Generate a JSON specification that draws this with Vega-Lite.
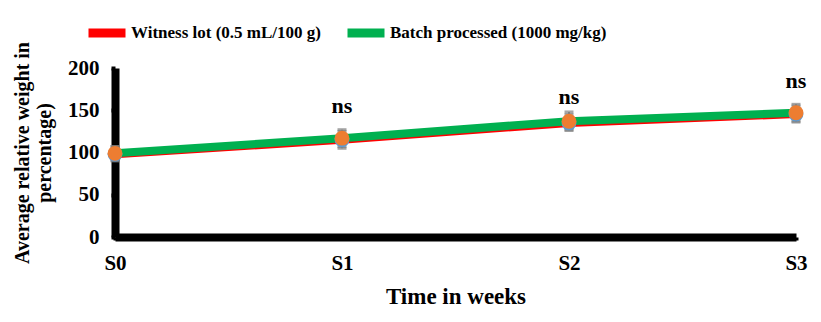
{
  "$schema": "https://vega.github.io/schema/vega-lite/v6.json",
  "width": 681,
  "height": 169,
  "autosize": {"type": "none"},
  "padding": {"left": 115, "right": 25, "top": 68, "bottom": 85},
  "background": "white",
  "config": {
    "font": "'Liberation Serif', 'DejaVu Serif', serif",
    "view": {"stroke": null},
    "axis": {"grid": false, "domainColor": "black", "domainWidth": 8, "tickColor": "black", "tickWidth": 4, "tickSize": 4, "labelFont": "'Liberation Serif', 'DejaVu Serif', serif", "labelFontWeight": "bold", "labelFontSize": 21, "labelColor": "black", "titleFont": "'Liberation Serif', 'DejaVu Serif', serif", "titleFontWeight": "bold", "titleColor": "black"},
    "legend": {"labelFont": "'Liberation Serif', 'DejaVu Serif', serif"},
    "text": {"font": "'Liberation Serif', 'DejaVu Serif', serif"}
  },
  "resolve": {"legend": {"color": "independent", "fill": "independent"}},
  "datasets": {
    "main": [
      {"series": "Witness lot (0.5 mL/100 g)", "week": "S0", "mean": 98, "low": 90, "high": 107},
      {"series": "Witness lot (0.5 mL/100 g)", "week": "S1", "mean": 115, "low": 105, "high": 125},
      {"series": "Witness lot (0.5 mL/100 g)", "week": "S2", "mean": 135, "low": 126, "high": 145},
      {"series": "Witness lot (0.5 mL/100 g)", "week": "S3", "mean": 145.5, "low": 136, "high": 155},
      {"series": "Batch processed (1000 mg/kg)", "week": "S0", "mean": 99, "low": 91, "high": 107},
      {"series": "Batch processed (1000 mg/kg)", "week": "S1", "mean": 117, "low": 107, "high": 127},
      {"series": "Batch processed (1000 mg/kg)", "week": "S2", "mean": 137, "low": 127, "high": 148},
      {"series": "Batch processed (1000 mg/kg)", "week": "S3", "mean": 147, "low": 137, "high": 157}
    ],
    "ns": [
      {"week": "S1", "pos": 155, "label": "ns"},
      {"week": "S2", "pos": 166, "label": "ns"},
      {"week": "S3", "pos": 185, "label": "ns"}
    ]
  },
  "encoding": {
    "x": {"field": "week", "type": "ordinal", "scale": {"type": "point", "padding": 0, "domain": ["S0", "S1", "S2", "S3"]},
          "axis": {"title": "Time in weeks", "titleFontSize": 23, "labelAngle": 0, "labelPadding": 12, "titlePadding": 12, "tickSize": 3}}
  },
  "layer": [
    {
      "data": {"name": "main"},
      "mark": {"type": "rule", "color": "#808080", "strokeWidth": 2},
      "encoding": {
        "y": {"field": "low", "type": "quantitative"},
        "y2": {"field": "high"}
      }
    },
    {
      "data": {"name": "main"},
      "mark": {"type": "tick", "color": "#808080", "thickness": 3, "size": 9},
      "encoding": {"y": {"field": "low", "type": "quantitative"}}
    },
    {
      "data": {"name": "main"},
      "mark": {"type": "tick", "color": "#808080", "thickness": 3, "size": 9},
      "encoding": {"y": {"field": "high", "type": "quantitative"}}
    },
    {
      "data": {"name": "main"},
      "mark": {"type": "line", "strokeWidth": 8, "strokeCap": "butt"},
      "encoding": {
        "y": {"field": "mean", "type": "quantitative", "scale": {"domain": [0, 200], "nice": false},
              "axis": {"values": [0, 50, 100, 150, 200], "title": ["Average relative weight in", "percentage)"], "titleFontSize": 20, "titlePadding": 13, "labelPadding": 12}},
        "color": {"field": "series", "type": "nominal",
                  "scale": {"domain": ["Witness lot (0.5 mL/100 g)", "Batch processed (1000 mg/kg)"], "range": ["#FF0000", "#00B050"]},
                  "legend": {"orient": "none", "legendX": -31, "legendY": -58, "direction": "horizontal", "title": null, "symbolType": "M-1,0 H1", "symbolSize": 1369, "symbolStrokeWidth": 9, "labelFontWeight": "bold", "labelFontSize": 17, "labelColor": "black", "labelLimit": 400, "labelOffset": 1, "columnPadding": 8}},
        "order": {"field": "series", "sort": "descending"}
      }
    },
    {
      "data": {"name": "main"},
      "mark": {"type": "point", "filled": true, "opacity": 1, "size": 220},
      "encoding": {
        "y": {"field": "mean", "type": "quantitative"},
        "fill": {"field": "series", "type": "nominal",
                 "scale": {"domain": ["Witness lot (0.5 mL/100 g)", "Batch processed (1000 mg/kg)"], "range": ["#5B9BD5", "#ED7D31"]},
                 "legend": null},
        "order": {"field": "series", "sort": "descending"}
      }
    },
    {
      "data": {"name": "ns"},
      "mark": {"type": "text", "fontWeight": "bold", "fontSize": 22, "color": "black"},
      "encoding": {
        "y": {"field": "pos", "type": "quantitative"},
        "text": {"field": "label"}
      }
    }
  ]
}
